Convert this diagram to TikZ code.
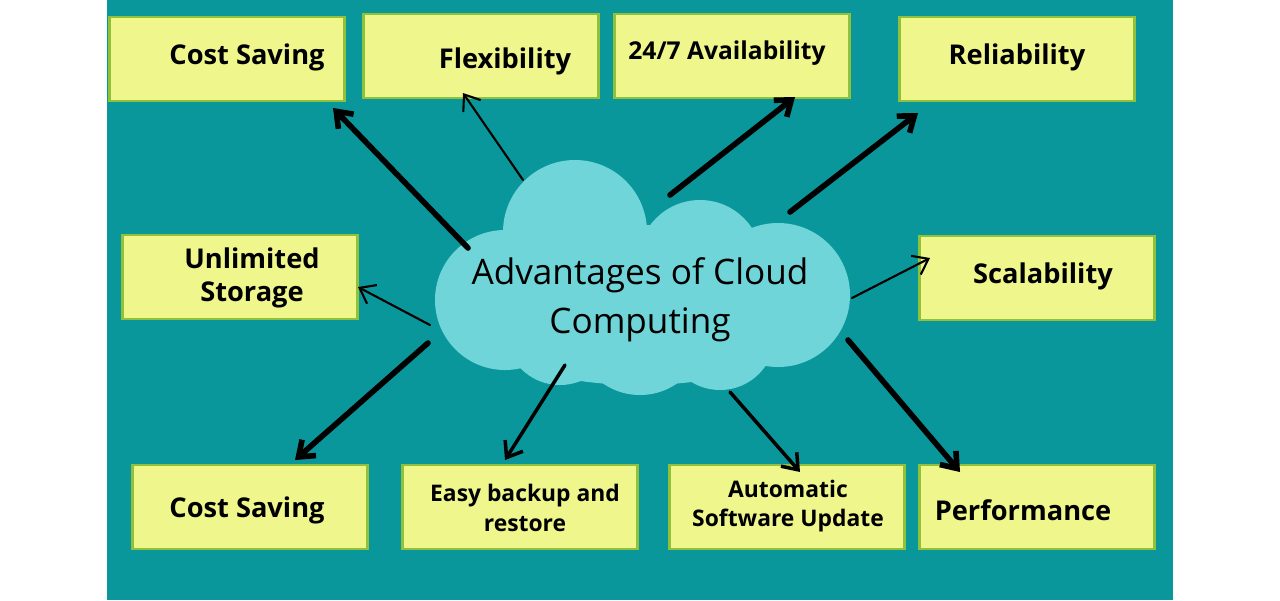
\documentclass[tikz,border=0pt]{standalone}
\usepackage{fontspec}
\setmainfont{Open Sans}
\usetikzlibrary{arrows.meta}
\definecolor{bg}{HTML}{0A979C}
\definecolor{note}{HTML}{EEF68C}
\definecolor{noteb}{HTML}{8FC23A}
\definecolor{cloud}{HTML}{6FD5D8}
\tikzset{
 note/.style={draw=noteb,line width=1.5pt,fill=note,minimum width=4.7cm,minimum height=1.68cm,inner sep=0pt},
 lbl/.style={font=\fontsize{15.5}{19}\selectfont\bfseries,align=center},
 arr/.style={-{Straight Barb[length=8pt,width=12pt]},line cap=round,black},
 thin/.style={arr,line width=1.2pt},
 med/.style={arr,line width=2pt},
 thk/.style={arr,line width=3.2pt}
}
\begin{document}
\begin{tikzpicture}[x=0.02cm,y=-0.02cm]
\useasboundingbox (0,0) rectangle (1280,600);
\fill[white] (0,0) rectangle (1280,600);
\fill[bg] (107,0) rectangle (1173,600);
\node[note] (b1) at (227,59) {}; \node[lbl] at (247,57) {Cost Saving};
\node[note] (b2) at (481,56) {}; \node[lbl] at (505,61) {Flexibility};
\node[note] (b3) at (732,56) {}; \node[lbl,font=\fontsize{14}{17}\selectfont\bfseries] at (727,53) {24/7 Availability};
\node[note] (b4) at (1017,59) {}; \node[lbl] at (1017,57) {Reliability};
\node[note] (b5) at (240,277) {}; \node[lbl] at (252,278) {Unlimited\\Storage};
\node[note] (b6) at (1037,278) {}; \node[lbl] at (1043,276) {Scalability};
\node[note] (b7) at (250,507) {}; \node[lbl] at (247,510) {Cost Saving};
\node[note] (b8) at (520,507) {}; \node[lbl,font=\fontsize{13}{17}\selectfont\bfseries] at (525,508) {Easy backup and\\restore};
\node[note] (b9) at (787,507) {}; \node[lbl,font=\fontsize{13}{17}\selectfont\bfseries] at (788,506) {Automatic\\Software Update};
\node[note] (b10) at (1037,507) {}; \node[lbl] at (1023,510) {Performance};
\begin{scope}[fill=cloud]
\fill (640,305) ellipse [x radius=190,y radius=80];
\fill (575,232) circle (72);
\fill (700,262) circle (62);
\fill (505,300) circle (70);
\fill (778,295) circle (72);
\fill (640,330) circle (65);
\fill (560,330) circle (55);
\fill (720,335) circle (55);
\end{scope}
\node (c) at (640,300) {};
\node[font=\fontsize{20}{28}\selectfont,align=center] at (640,300) {Advantages of Cloud\\Computing};
\coordinate (s1) at (468,248); \coordinate (s2) at (523,180);
\coordinate (s3) at (670,195); \coordinate (s4) at (790,212);
\coordinate (s5) at (430,325); \coordinate (s6) at (428,343);
\coordinate (s7) at (565,365); \coordinate (s8) at (730,392);
\coordinate (s9) at (848,340); \coordinate (s10) at (852,298);
\coordinate (t1) at (333,108); \coordinate (t2) at (463,93);
\coordinate (t3) at (795,97); \coordinate (t4) at (918,113);
\coordinate (t5) at (358,287); \coordinate (t7) at (295,460);
\coordinate (t8) at (505,460); \coordinate (t9) at (800,472);
\coordinate (t10) at (960,472); \coordinate (t6) at (930,258);
\draw[thk] (s1) -- (t1);
\draw[thin] (s2) -- (t2);
\draw[thk] (s3) -- (t3);
\draw[thk] (s4) -- (t4);
\draw[thin] (s5) -- (t5);
\draw[thk] (s6) -- (t7);
\draw[med] (s7) -- (t8);
\draw[med] (s8) -- (t9);
\draw[thk] (s9) -- (t10);
\draw[thin] (s10) -- (t6);
\end{tikzpicture}
\end{document}
